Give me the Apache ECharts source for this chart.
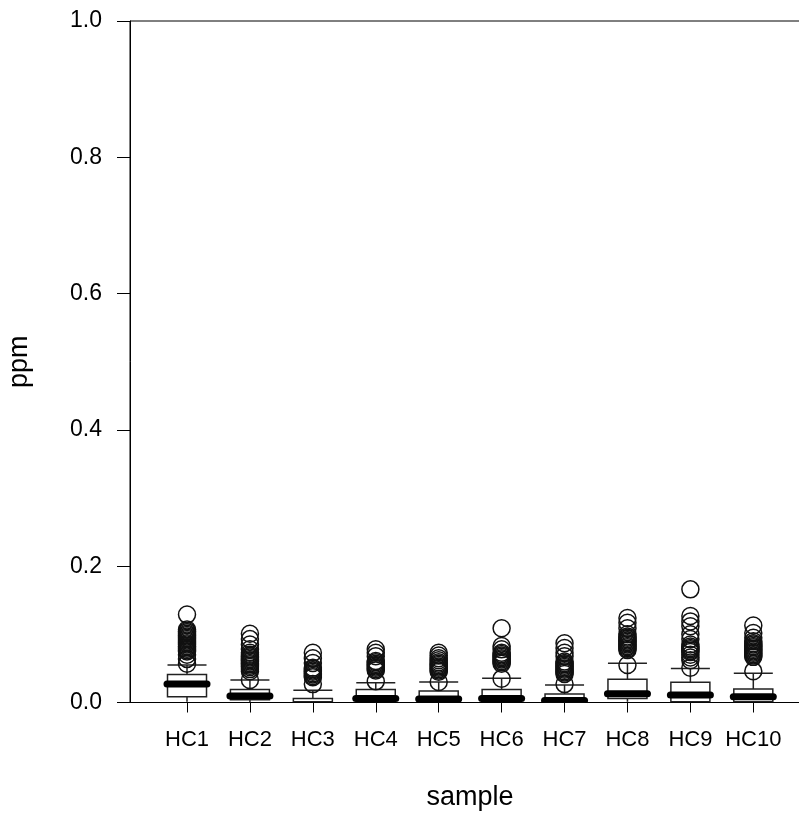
<!DOCTYPE html>
<html>
<head>
<meta charset="utf-8">
<script src="https://cdn.jsdelivr.net/npm/echarts@6/dist/echarts.min.js"></script>
<style>html,body{margin:0;padding:0;background:#fff;}#c{width:799px;height:817px;}</style>
</head>
<body>
<div id="c"></div>
<script>
const categories = ['HC1','HC2','HC3','HC4','HC5','HC6','HC7','HC8','HC9','HC10'];
const whiskerLow  = [0.001, 0.000, 0.000, 0.000, 0.000, 0.000, 0.000, 0.001, 0.000, 0.000];
const q1Values    = [0.0085,0.004, 0.001, 0.003, 0.002, 0.003, 0.001, 0.006, 0.001, 0.001];
const medians     = [0.027, 0.0095,0.000, 0.006, 0.005, 0.006, 0.003, 0.013, 0.011, 0.0085];
const q3Values    = [0.041, 0.019, 0.006, 0.019, 0.017, 0.019, 0.0125,0.034, 0.0296,0.0198];
const whiskerHigh = [0.055, 0.033, 0.018, 0.029, 0.030, 0.0355,0.0257,0.0575,0.050, 0.043];

const outliersHC1  = [0.057,0.064,0.070,0.075,0.077,0.079,0.081,0.083,0.085,0.087,0.089,0.091,0.093,0.095,0.097,0.099,0.101,0.103,0.105,0.107,0.129];
const outliersHC2  = [0.033,0.046,0.049,0.052,0.054,0.056,0.058,0.060,0.062,0.064,0.066,0.068,0.070,0.073,0.078,0.085,0.093,0.101];
const outliersHC3  = [0.027,0.037,0.039,0.041,0.043,0.045,0.047,0.049,0.051,0.058,0.065,0.073];
const outliersHC4  = [0.031,0.047,0.049,0.051,0.053,0.055,0.057,0.059,0.061,0.068,0.073,0.078];
const outliersHC5  = [0.030,0.045,0.047,0.049,0.051,0.053,0.055,0.057,0.059,0.062,0.065,0.069,0.073];
const outliersHC6  = [0.035,0.057,0.059,0.061,0.063,0.065,0.067,0.069,0.071,0.073,0.078,0.083,0.109];
const outliersHC7  = [0.027,0.042,0.044,0.046,0.048,0.050,0.052,0.054,0.056,0.058,0.060,0.068,0.073,0.080,0.087];
const outliersHC8  = [0.055,0.077,0.079,0.081,0.083,0.085,0.087,0.089,0.091,0.093,0.095,0.097,0.100,0.109,0.117,0.124];
const outliersHC9  = [0.051,0.062,0.066,0.070,0.074,0.076,0.078,0.080,0.082,0.085,0.093,0.100,0.112,0.119,0.127,0.166];
const outliersHC10 = [0.046,0.067,0.069,0.071,0.073,0.075,0.077,0.079,0.081,0.083,0.085,0.087,0.090,0.095,0.102,0.113];
const outlierLists = [outliersHC1,outliersHC2,outliersHC3,outliersHC4,outliersHC5,outliersHC6,outliersHC7,outliersHC8,outliersHC9,outliersHC10];

const yTicks = [0, 0.2, 0.4, 0.6, 0.8, 1.0];
const positions = categories.map((c, i) => i + 1);

const boxData = categories.map((c, i) => [positions[i], whiskerLow[i], q1Values[i], medians[i], q3Values[i], whiskerHigh[i]]);
const outlierData = [];
outlierLists.forEach((list, i) => list.forEach(v => outlierData.push([positions[i], v])));

const FONT = '"Liberation Sans", Arial, sans-serif';
const chart = echarts.init(document.getElementById('c'), null, {renderer: 'canvas'});

function renderBox(params, api) {
  const x = api.value(0);
  const lo = api.coord([x, api.value(1)]);
  const q1 = api.coord([x, api.value(2)]);
  const md = api.coord([x, api.value(3)]);
  const q3 = api.coord([x, api.value(4)]);
  const hi = api.coord([x, api.value(5)]);
  const unit = api.size([1, 0])[0];
  const w = unit * 0.62;
  const cx = lo[0];
  const stroke = {stroke: '#222', lineWidth: 1.5, fill: null};
  const children = [
    {type: 'line', shape: {x1: cx, y1: q3[1], x2: cx, y2: hi[1]}, style: stroke},
    {type: 'line', shape: {x1: cx - w / 2, y1: hi[1], x2: cx + w / 2, y2: hi[1]}, style: stroke},
    {type: 'line', shape: {x1: cx, y1: lo[1], x2: cx, y2: q1[1]}, style: stroke},
    {type: 'rect', shape: {x: cx - w / 2, y: q3[1], width: w, height: q1[1] - q3[1]}, style: {stroke: '#222', lineWidth: 1.5, fill: '#fff'}}
  ];
  if (api.value(3) > 0) {
    children.push({type: 'line', shape: {x1: cx - w / 2 - 0.5, y1: md[1], x2: cx + w / 2 + 0.5, y2: md[1]},
      style: {stroke: '#000', lineWidth: 7, lineCap: 'round'}});
  }
  return {type: 'group', children: children};
}

chart.setOption({
  animation: false,
  backgroundColor: '#fff',
  grid: {left: 130, width: 690, top: 21, bottom: 114.5, show: true, borderColor: '#000', borderWidth: 1,
    containLabel: false, outerBoundsMode: 'none'},
  xAxis: {
    type: 'value', min: 0.094, max: 11.06,
    name: 'sample', nameLocation: 'middle', nameGap: 82,
    nameTextStyle: {fontFamily: FONT, fontSize: 27, color: '#000', padding: [0, 10, 0, 0]},
    axisLine: {show: true, lineStyle: {color: '#000', width: 1}},
    axisTick: {show: true, customValues: positions, length: 10, inside: false, lineStyle: {color: '#000'}},
    axisLabel: {show: true, customValues: positions, margin: 26, fontFamily: FONT, fontSize: 22, color: '#000',
      formatter: v => categories[Math.round(v) - 1] || ''},
    splitLine: {show: false}
  },
  yAxis: {
    type: 'value', min: 0, max: 1, interval: 0.2,
    name: 'ppm', nameLocation: 'middle', nameGap: 97, nameRotate: 90,
    nameTextStyle: {fontFamily: FONT, fontSize: 27, color: '#000'},
    axisLine: {show: true, lineStyle: {color: '#000', width: 1}},
    axisTick: {show: true, length: 13, inside: false, lineStyle: {color: '#000'}},
    axisLabel: {margin: 28, fontFamily: FONT, fontSize: 23, color: '#000',
      customValues: yTicks, formatter: v => v.toFixed(1)},
    splitLine: {show: false}
  },
  series: [
    {type: 'custom', renderItem: renderBox, data: boxData, clip: true, z: 2,
      encode: {x: 0, y: [1, 2, 3, 4, 5]}},
    {type: 'scatter', data: outlierData, symbol: 'circle', symbolSize: 17, z: 3,
      itemStyle: {color: 'rgba(0,0,0,0)', borderColor: '#111', borderWidth: 1.5, opacity: 1}}
  ]
});
</script>
</body>
</html>
